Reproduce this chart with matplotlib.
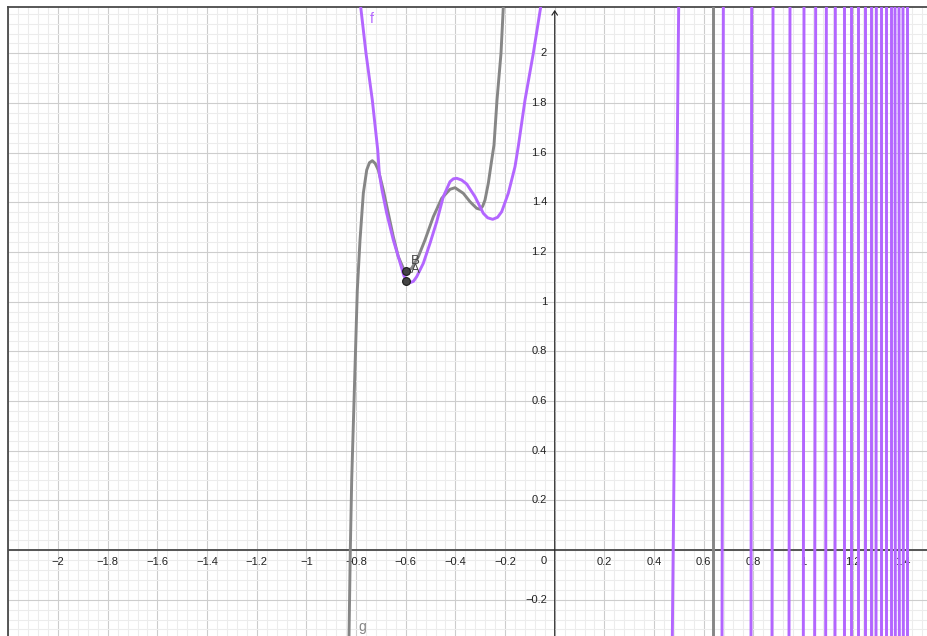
import matplotlib
matplotlib.use("Agg")
import matplotlib.pyplot as plt
from matplotlib.ticker import MultipleLocator

# ------------------------------------------------------------------------------
# Data (graph units)
# ------------------------------------------------------------------------------

# f (purple) - the smooth part left of the y axis
f_x = [-0.7813, -0.7600, -0.7346, -0.7128, -0.7064, -0.6955, -0.6766, -0.6500,
       -0.6259, -0.6069, -0.5950, -0.5828, -0.5690, -0.5558, -0.5292, -0.5022,
       -0.4752, -0.4487, -0.4217, -0.4080, -0.3947, -0.3750, -0.3544, -0.3210,
       -0.2876, -0.2700, -0.2497, -0.2300, -0.2135, -0.1869, -0.1599, -0.1458,
       -0.1196, -0.0862, -0.0564]
f_y = [2.1869, 2.0004, 1.8123, 1.6110, 1.5171, 1.4498, 1.3560, 1.2485,
       1.1679, 1.1030, 1.0850, 1.0765, 1.0820, 1.1007, 1.1546, 1.2352,
       1.3222, 1.4229, 1.4833, 1.4950, 1.4970, 1.4900, 1.4740, 1.4229,
       1.3560, 1.3380, 1.3318, 1.3400, 1.3625, 1.4366, 1.5437, 1.6311,
       1.8123, 2.0004, 2.1869]

# g (gray)
g_x = [-0.8284, -0.8232, -0.8176, -0.8063, -0.7950, -0.7841, -0.7708, -0.7571,
       -0.7460, -0.7346, -0.7230, -0.7104, -0.6903, -0.6702, -0.6500, -0.6299,
       -0.6097, -0.5989, -0.5759, -0.5493, -0.5224, -0.4889, -0.4551, -0.4217,
       -0.4015, -0.3681, -0.3411, -0.3278, -0.3140, -0.3008, -0.2900, -0.2807,
       -0.2674, -0.2537, -0.2445, -0.2324, -0.2163, -0.2070]
g_y = [-0.3464, 0.0, 0.2819, 0.6645, 1.0471, 1.2485, 1.4366, 1.5304,
       1.5600, 1.5679, 1.5570, 1.5304, 1.4498, 1.3560, 1.2618, 1.1812,
       1.1345, 1.1236, 1.1345, 1.1812, 1.2485, 1.3423, 1.4164, 1.4527,
       1.4591, 1.4366, 1.4027, 1.3894, 1.3760, 1.3721, 1.3850, 1.4096,
       1.4768, 1.5707, 1.6311, 1.8123, 2.0004, 2.1869]

# near-vertical branches of f right of the y axis (x at bottom edge, x at top edge)
f_branch_bottom = [0.4737, 0.6738, 0.7906, 0.8751, 0.9436, 1.0013, 1.0470, 1.0913,
                   1.1289, 1.1638, 1.1946, 1.2228, 1.2484, 1.2725, 1.2940, 1.3155,
                   1.3356, 1.3531, 1.3718, 1.3880, 1.4041, 1.4175]
f_branch_top = [0.4993, 0.6791, 0.7933, 0.8792, 0.9476, 1.0040, 1.0510, 1.0940,
                1.1302, 1.1638, 1.1946, 1.2228, 1.2484, 1.2725, 1.2953, 1.3155,
                1.3356, 1.3531, 1.3705, 1.3866, 1.4027, 1.4175]

# vertical branch of g
g_branch_x = [0.6389]

# points
point_names = ["A", "B"]
point_x = [-0.6, -0.6]
point_y = [1.082, 1.124]

# axis labels
x_tick_vals = [-2, -1.8, -1.6, -1.4, -1.2, -1, -0.8, -0.6, -0.4, -0.2,
               0.2, 0.4, 0.6, 0.8, 1, 1.2, 1.4]
x_tick_text = ["\u22122", "\u22121.8", "\u22121.6", "\u22121.4", "\u22121.2", "\u22121",
               "\u22120.8", "\u22120.6", "\u22120.4", "\u22120.2",
               "0.2", "0.4", "0.6", "0.8", "1", "1.2", "1.4"]
y_tick_vals = [-0.2, 0.2, 0.4, 0.6, 0.8, 1, 1.2, 1.4, 1.6, 1.8, 2]
y_tick_text = ["\u22120.2", "0.2", "0.4", "0.6", "0.8", "1", "1.2", "1.4", "1.6", "1.8", "2"]

# ------------------------------------------------------------------------------
# Figure setup
# ------------------------------------------------------------------------------

purple = "#b366ff"
gray = "#868686"
plt.rcParams["font.family"] = ["Liberation Sans", "DejaVu Sans"]

fig = plt.figure(figsize=(9.28, 6.36), dpi=100)
ax = fig.add_axes([8 / 928, 0, 920 / 928, 629 / 636])
ax.set_xlim(-2.2018, 1.5034)
ax.set_ylim(-0.3464, 2.1869)
y_lo, y_hi = ax.get_ylim()

ax.xaxis.set_major_locator(MultipleLocator(0.2))
ax.xaxis.set_minor_locator(MultipleLocator(0.04))
ax.yaxis.set_major_locator(MultipleLocator(0.2))
ax.yaxis.set_minor_locator(MultipleLocator(0.04))
ax.grid(which="minor", color="#ececec", lw=0.75)
ax.grid(which="major", color="#cdcdcd", lw=0.8)
ax.set_axisbelow(True)
ax.tick_params(which="both", length=0, labelbottom=False, labelleft=False)
for side in ["right", "bottom"]:
    ax.spines[side].set_visible(False)
for side in ["left", "top"]:
    ax.spines[side].set_color("#4a4a4a")
    ax.spines[side].set_linewidth(1.3)

# axes
ax.axhline(0, color="#555555", lw=1.4, zorder=2)
ax.annotate("", xy=(0, y_hi - 0.012), xytext=(0, y_lo),
            arrowprops=dict(arrowstyle="->,head_length=0.3,head_width=0.2",
                            color="#222222", lw=0.8, shrinkA=0, shrinkB=0), zorder=2)

for v, t in zip(x_tick_vals, x_tick_text):
    ax.annotate(t, xy=(v, 0), xytext=(0, -8.5), textcoords="offset points",
                ha="center", va="center", fontsize=8, color="#222222")
ax.annotate("0", xy=(0, 0), xytext=(-8.2, -8.2), textcoords="offset points",
            ha="center", va="center", fontsize=8, color="#222222")
for v, t in zip(y_tick_vals, y_tick_text):
    ax.annotate(t, xy=(0, v), xytext=(-5.5, 0), textcoords="offset points",
                ha="right", va="center", fontsize=8, color="#222222")

# ------------------------------------------------------------------------------
# Curves
# ------------------------------------------------------------------------------

line_kw = dict(lw=2.1, solid_capstyle="round", solid_joinstyle="round", zorder=3)

ax.plot(g_x, g_y, color=gray, **line_kw)
for xb in g_branch_x:
    ax.plot([xb, xb], [y_lo, y_hi], color=gray, **line_kw)

ax.plot(f_x, f_y, color=purple, **line_kw)
for xb, xt in zip(f_branch_bottom, f_branch_top):
    ax.plot([xb, xt], [y_lo, y_hi], color=purple, **line_kw)

# points A and B
ax.plot(point_x, point_y, "o", ms=5.6, mfc="#444444", mec="#1a1a1a", mew=0.8, zorder=5)
ax.annotate("B", xy=(point_x[1], point_y[1]), xytext=(3.4, 5.0), textcoords="offset points",
            ha="left", va="baseline", fontsize=9.5, color="#444444", zorder=6)
ax.annotate("A", xy=(point_x[0], point_y[0]), xytext=(3.6, 6.0), textcoords="offset points",
            ha="left", va="baseline", fontsize=9.5, color="#444444", zorder=6)

# curve names
ax.text(-0.7438, 2.1237, "f", color=purple, fontsize=10, ha="left", va="baseline")
ax.text(-0.7922, -0.326, "g", color=gray, fontsize=10, ha="left", va="baseline")

fig.savefig("out.png", dpi=100, facecolor="white")
